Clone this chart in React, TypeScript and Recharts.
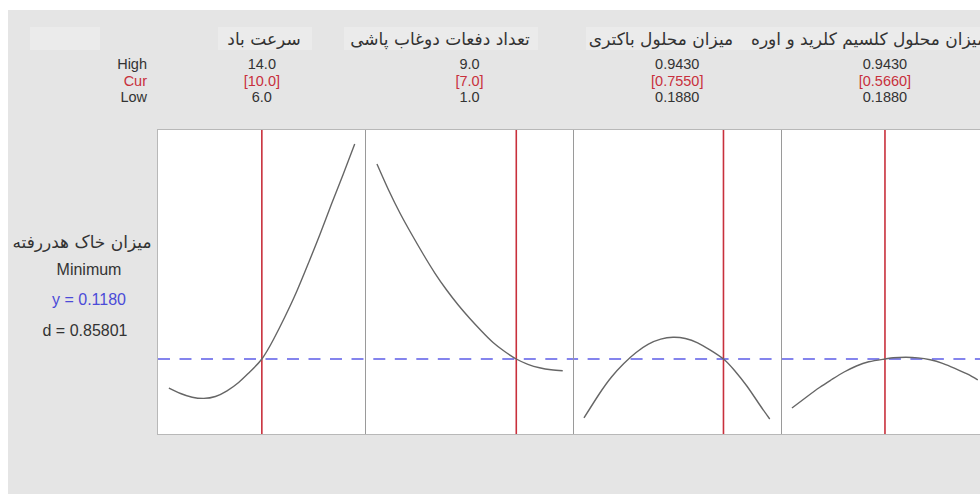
import { Line, LineChart, ReferenceLine, XAxis, YAxis } from 'recharts'

// factor headers and settings (left to right)
const factorNames = [
  'سرعت باد',
  'تعداد دفعات دوغاب پاشی',
  'میزان محلول باکتری',
  'میزان محلول کلسیم کلرید و اوره',
]
const highLabels = ['14.0', '9.0', '0.9430', '0.9430']
const curLabels = ['[10.0]', '[7.0]', '[0.7550]', '[0.5660]']
const lowLabels = ['6.0', '1.0', '0.1880', '0.1880']
const lows = [6, 1, 0.188, 0.188]
const highs = [14, 9, 0.943, 0.943]
const currents = [10, 7, 0.755, 0.566]

// predicted response along each factor
const windX = [6, 6.5, 7, 7.5, 8, 8.5, 9, 9.5, 10, 10.5, 11, 11.5, 12, 12.5, 13, 13.5, 14]
const windY = [0.089, 0.0835, 0.0798, 0.0786, 0.0805, 0.0862, 0.0945, 0.1055, 0.118, 0.1375, 0.1605, 0.1855, 0.2135, 0.2425, 0.273, 0.3025, 0.333]

const sprayX = [1, 1.5, 2, 2.5, 3, 3.5, 4, 4.5, 5, 5.5, 6, 6.5, 7, 7.5, 8, 8.5, 9]
const sprayY = [0.313, 0.287, 0.2635, 0.2425, 0.2225, 0.2037, 0.187, 0.172, 0.1585, 0.146, 0.1345, 0.1255, 0.118, 0.1127, 0.1092, 0.1072, 0.1063]

const bacteriaX = [0.188, 0.25, 0.3, 0.35, 0.4, 0.45, 0.5, 0.55, 0.6, 0.65, 0.7, 0.755, 0.8, 0.85, 0.9, 0.943]
const bacteriaY = [0.059, 0.083, 0.1, 0.1135, 0.1245, 0.1328, 0.1378, 0.1397, 0.1385, 0.1342, 0.1272, 0.118, 0.1065, 0.091, 0.073, 0.058]

const calciumX = [0.188, 0.25, 0.3, 0.35, 0.4, 0.45, 0.5, 0.566, 0.6, 0.65, 0.7, 0.75, 0.8, 0.85, 0.9, 0.943]
const calciumY = [0.069, 0.0805, 0.0895, 0.0975, 0.105, 0.111, 0.1152, 0.118, 0.1192, 0.1197, 0.1191, 0.1172, 0.1137, 0.1087, 0.103, 0.097]

const responseName = 'میزان خاک هدررفته'
const goal = 'Minimum'
const targetY = 0.118
const yLabel = 'y = 0.1180'
const dLabel = 'd = 0.85801'
const yDomain = [0.043, 0.347]

const curves = [
  windX.map((x, i) => ({ x, y: windY[i] })),
  sprayX.map((x, i) => ({ x, y: sprayY[i] })),
  bacteriaX.map((x, i) => ({ x, y: bacteriaY[i] })),
  calciumX.map((x, i) => ({ x, y: calciumY[i] })),
]

// page geometry
const OX = 8
const OY = 10
const PLOT_LEFT = 158
const PLOT_TOP = 130
const PLOT_H = 304
const PANEL_W = 207.7
const LATIN = '"Liberation Sans", Arial, sans-serif'
const ARABIC = '"DejaVu Sans", sans-serif'
const INK = '#333'
const RED = '#c8303c'
const BLUE = '#4b4bd8'
const ROWS = [63.8, 80.5, 97.2]

function Txt({
  x,
  y,
  children,
  color = INK,
  size = 14.5,
  anchor = 'middle',
  font = LATIN,
  rtl = false,
}: {
  x: number
  y: number
  children: React.ReactNode
  color?: string
  size?: number
  anchor?: 'start' | 'middle' | 'end'
  font?: string
  rtl?: boolean
}) {
  const tx = anchor === 'middle' ? '-50%' : anchor === 'end' ? '-100%' : '0'
  return (
    <div
      style={{
        position: 'absolute',
        left: x - OX,
        top: y - OY,
        transform: `translate(${tx}, -50%)`,
        whiteSpace: 'nowrap',
        fontSize: size,
        fontFamily: font,
        lineHeight: 1,
        color,
        direction: rtl ? 'rtl' : 'ltr',
      }}
    >
      {children}
    </div>
  )
}

function Panel({ i }: { i: number }) {
  const pad = (highs[i] - lows[i]) * 0.059
  return (
    <div style={{ position: 'absolute', left: PLOT_LEFT + i * PANEL_W - OX, top: PLOT_TOP - OY }}>
      <LineChart width={PANEL_W} height={PLOT_H} data={curves[i]} margin={{ top: 0, right: 0, bottom: 0, left: 0 }}>
        <XAxis hide type="number" dataKey="x" domain={[lows[i] - pad, highs[i] + pad]} allowDataOverflow />
        <YAxis hide type="number" domain={yDomain} allowDataOverflow />
        <ReferenceLine x={currents[i]} stroke={RED} strokeWidth={1.6} />
        <ReferenceLine
          y={targetY}
          stroke="#5c5ce8"
          strokeWidth={1.7}
          strokeDasharray="12 9.5"
          strokeDashoffset={(i * PANEL_W) % 21.5}
        />
        <Line
          type="natural"
          dataKey="y"
          stroke="#666"
          strokeWidth={1.4}
          dot={false}
          activeDot={false}
          isAnimationActive={false}
        />
      </LineChart>
    </div>
  )
}

const headerBoxes = [
  { x: 30, w: 70 },
  { x: 218, w: 94 },
  { x: 344, w: 194 },
  { x: 586, w: 176 },
  { x: 758, w: 230 },
]
const headerCenters = [264, 440, 661]

export default function App() {
  return (
    <div
      style={{
        position: 'absolute',
        left: OX,
        top: OY,
        width: 980 - OX,
        height: 494 - OY,
        background: '#e5e5e5',
        overflow: 'hidden',
      }}
    >
      {headerBoxes.map((b, k) => (
        <div
          key={k}
          style={{ position: 'absolute', left: b.x - OX, top: 27 - OY, width: b.w, height: 23, background: '#ebebeb' }}
        />
      ))}
      <div
        style={{
          position: 'absolute',
          left: PLOT_LEFT - 1 - OX,
          top: PLOT_TOP - 1 - OY,
          width: 900,
          height: PLOT_H,
          background: '#fff',
          border: '1px solid #b8b8b8',
        }}
      />
      {[0, 1, 2, 3].map((i) => (
        <Panel key={i} i={i} />
      ))}
      {[1, 2, 3].map((i) => (
        <div
          key={i}
          style={{
            position: 'absolute',
            left: PLOT_LEFT + i * PANEL_W - OX - 0.5,
            top: PLOT_TOP - OY,
            width: 1.3,
            height: PLOT_H,
            background: '#9a9a9a',
          }}
        />
      ))}

      {headerCenters.map((c, i) => (
        <Txt key={i} x={c} y={39} font={ARABIC} size={17} rtl>
          {factorNames[i]}
        </Txt>
      ))}
      <Txt x={986} y={39} font={ARABIC} size={17} anchor="end" rtl>
        {factorNames[3]}
      </Txt>

      <Txt x={147} y={ROWS[0]} anchor="end">High</Txt>
      <Txt x={147} y={ROWS[1]} anchor="end" color={RED}>Cur</Txt>
      <Txt x={147} y={ROWS[2]} anchor="end">Low</Txt>
      {[0, 1, 2, 3].map((i) => {
        const c = PLOT_LEFT + (i + 0.5) * PANEL_W
        return (
          <div key={i}>
            <Txt x={c} y={ROWS[0]}>{highLabels[i]}</Txt>
            <Txt x={c} y={ROWS[1]} color={RED}>{curLabels[i]}</Txt>
            <Txt x={c} y={ROWS[2]}>{lowLabels[i]}</Txt>
          </div>
        )
      })}

      <Txt x={82} y={242} font={ARABIC} size={17} rtl>
        {responseName}
      </Txt>
      <Txt x={89} y={270} size={16}>{goal}</Txt>
      <Txt x={89} y={300} size={16} color={BLUE}>{yLabel}</Txt>
      <Txt x={85} y={331} size={16}>{dLabel}</Txt>
    </div>
  )
}
